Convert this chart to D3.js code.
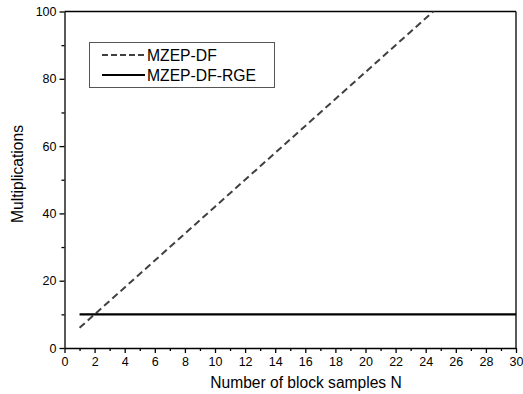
<!DOCTYPE html>
<html>
<head>
<meta charset="utf-8">
<script src="https://cdn.jsdelivr.net/npm/d3@7"></script>
<style>
  body { margin: 0; background: #fff; }
  text { font-family: "Liberation Sans", Arial, sans-serif; fill: #000; }
</style>
</head>
<body>
<div id="chart"></div>
<script>
// data
const samplesN = [1, 2, 3, 4, 5, 6, 7, 8, 9, 10, 11, 12, 13, 14, 15, 16, 17, 18, 19, 20, 21, 22, 23, 24, 25, 26, 27, 28, 29, 30];
const mzepDf = [6, 10, 14, 18, 22, 26, 30, 34, 38, 42, 46, 50, 54, 58, 62, 66, 70, 74, 78, 82, 86, 90, 94, 98, 102, 106, 110, 114, 118, 122];
const mzepDfRge = [10, 10, 10, 10, 10, 10, 10, 10, 10, 10, 10, 10, 10, 10, 10, 10, 10, 10, 10, 10, 10, 10, 10, 10, 10, 10, 10, 10, 10, 10];
const seriesNames = ['MZEP-DF', 'MZEP-DF-RGE'];
const xTicks = [0, 2, 4, 6, 8, 10, 12, 14, 16, 18, 20, 22, 24, 26, 28, 30];
const yTicks = [0, 20, 40, 60, 80, 100];

const width = 523, height = 394;
const mLeft = 64.5, mRight = 516, mTop = 11.5, mBottom = 348;

const svg = d3.select('#chart').append('svg')
  .attr('width', width)
  .attr('height', height);

const x = d3.scaleLinear().domain([0, 30]).range([mLeft, mRight]);
const y = d3.scaleLinear().domain([0, 100]).range([mBottom, mTop]);

svg.append('clipPath').attr('id', 'clip')
  .append('rect')
  .attr('x', mLeft).attr('y', mTop)
  .attr('width', mRight - mLeft).attr('height', mBottom - mTop);

// minor ticks
const xMinor = d3.range(1, 30, 2);
const yMinor = d3.range(10, 100, 20);

svg.append('g')
  .attr('transform', `translate(0,${mBottom})`)
  .call(d3.axisBottom(x).tickValues(xMinor).tickSize(3).tickFormat(''))
  .call(g => g.select('.domain').remove());
svg.append('g')
  .attr('transform', `translate(${mLeft},0)`)
  .call(d3.axisLeft(y).tickValues(yMinor).tickSize(3).tickFormat(''))
  .call(g => g.select('.domain').remove());

const xAxis = svg.append('g')
  .attr('transform', `translate(0,${mBottom})`)
  .call(d3.axisBottom(x).tickValues(xTicks).tickSize(5).tickSizeOuter(0).tickPadding(4));
xAxis.selectAll('text').style('font-size', '12.5px');

const yAxis = svg.append('g')
  .attr('transform', `translate(${mLeft},0)`)
  .call(d3.axisLeft(y).tickValues(yTicks).tickSize(5).tickSizeOuter(0).tickPadding(3));
yAxis.selectAll('text').style('font-size', '12.5px');

svg.selectAll('.domain, .tick line').attr('stroke', '#000').attr('stroke-width', 1.3);

// frame top and right
svg.append('line').attr('x1', mLeft).attr('x2', mRight).attr('y1', mTop).attr('y2', mTop)
  .attr('stroke', '#000').attr('stroke-width', 1.3);
svg.append('line').attr('x1', mRight).attr('x2', mRight).attr('y1', mTop).attr('y2', mBottom)
  .attr('stroke', '#000').attr('stroke-width', 1.3);

const line = d3.line()
  .x((d, i) => x(samplesN[i]))
  .y(d => y(d));

const plot = svg.append('g').attr('clip-path', 'url(#clip)');

plot.append('path')
  .datum(mzepDf)
  .attr('d', line)
  .attr('fill', 'none')
  .attr('stroke', '#404040')
  .attr('stroke-width', 2)
  .attr('stroke-dasharray', '7,4');

plot.append('path')
  .datum(mzepDfRge)
  .attr('d', line)
  .attr('fill', 'none')
  .attr('stroke', '#000')
  .attr('stroke-width', 2.2);

// legend
const legend = svg.append('g');
legend.append('rect')
  .attr('x', 89.5).attr('y', 42.5)
  .attr('width', 185).attr('height', 45)
  .attr('fill', '#fff')
  .attr('stroke', '#555')
  .attr('stroke-width', 1);

const legendStyles = [
  { stroke: '#404040', dash: '6,3', w: 2 },
  { stroke: '#000', dash: null, w: 2.2 }
];
seriesNames.forEach((name, i) => {
  const ly = 55 + i * 20;
  legend.append('line')
    .attr('x1', 102).attr('x2', 145)
    .attr('y1', ly).attr('y2', ly)
    .attr('stroke', legendStyles[i].stroke)
    .attr('stroke-width', legendStyles[i].w)
    .attr('stroke-dasharray', legendStyles[i].dash);
  legend.append('text')
    .attr('x', 147).attr('y', ly + 5.5)
    .style('font-size', '15.7px')
    .text(name);
});

// axis titles
svg.append('text')
  .attr('x', 306)
  .attr('y', 388)
  .attr('text-anchor', 'middle')
  .style('font-size', '15.6px')
  .text('Number of block samples N');

svg.append('text')
  .attr('transform', `translate(23,174) rotate(-90)`)
  .attr('text-anchor', 'middle')
  .style('font-size', '15.6px')
  .text('Multiplications');
</script>
</body>
</html>
